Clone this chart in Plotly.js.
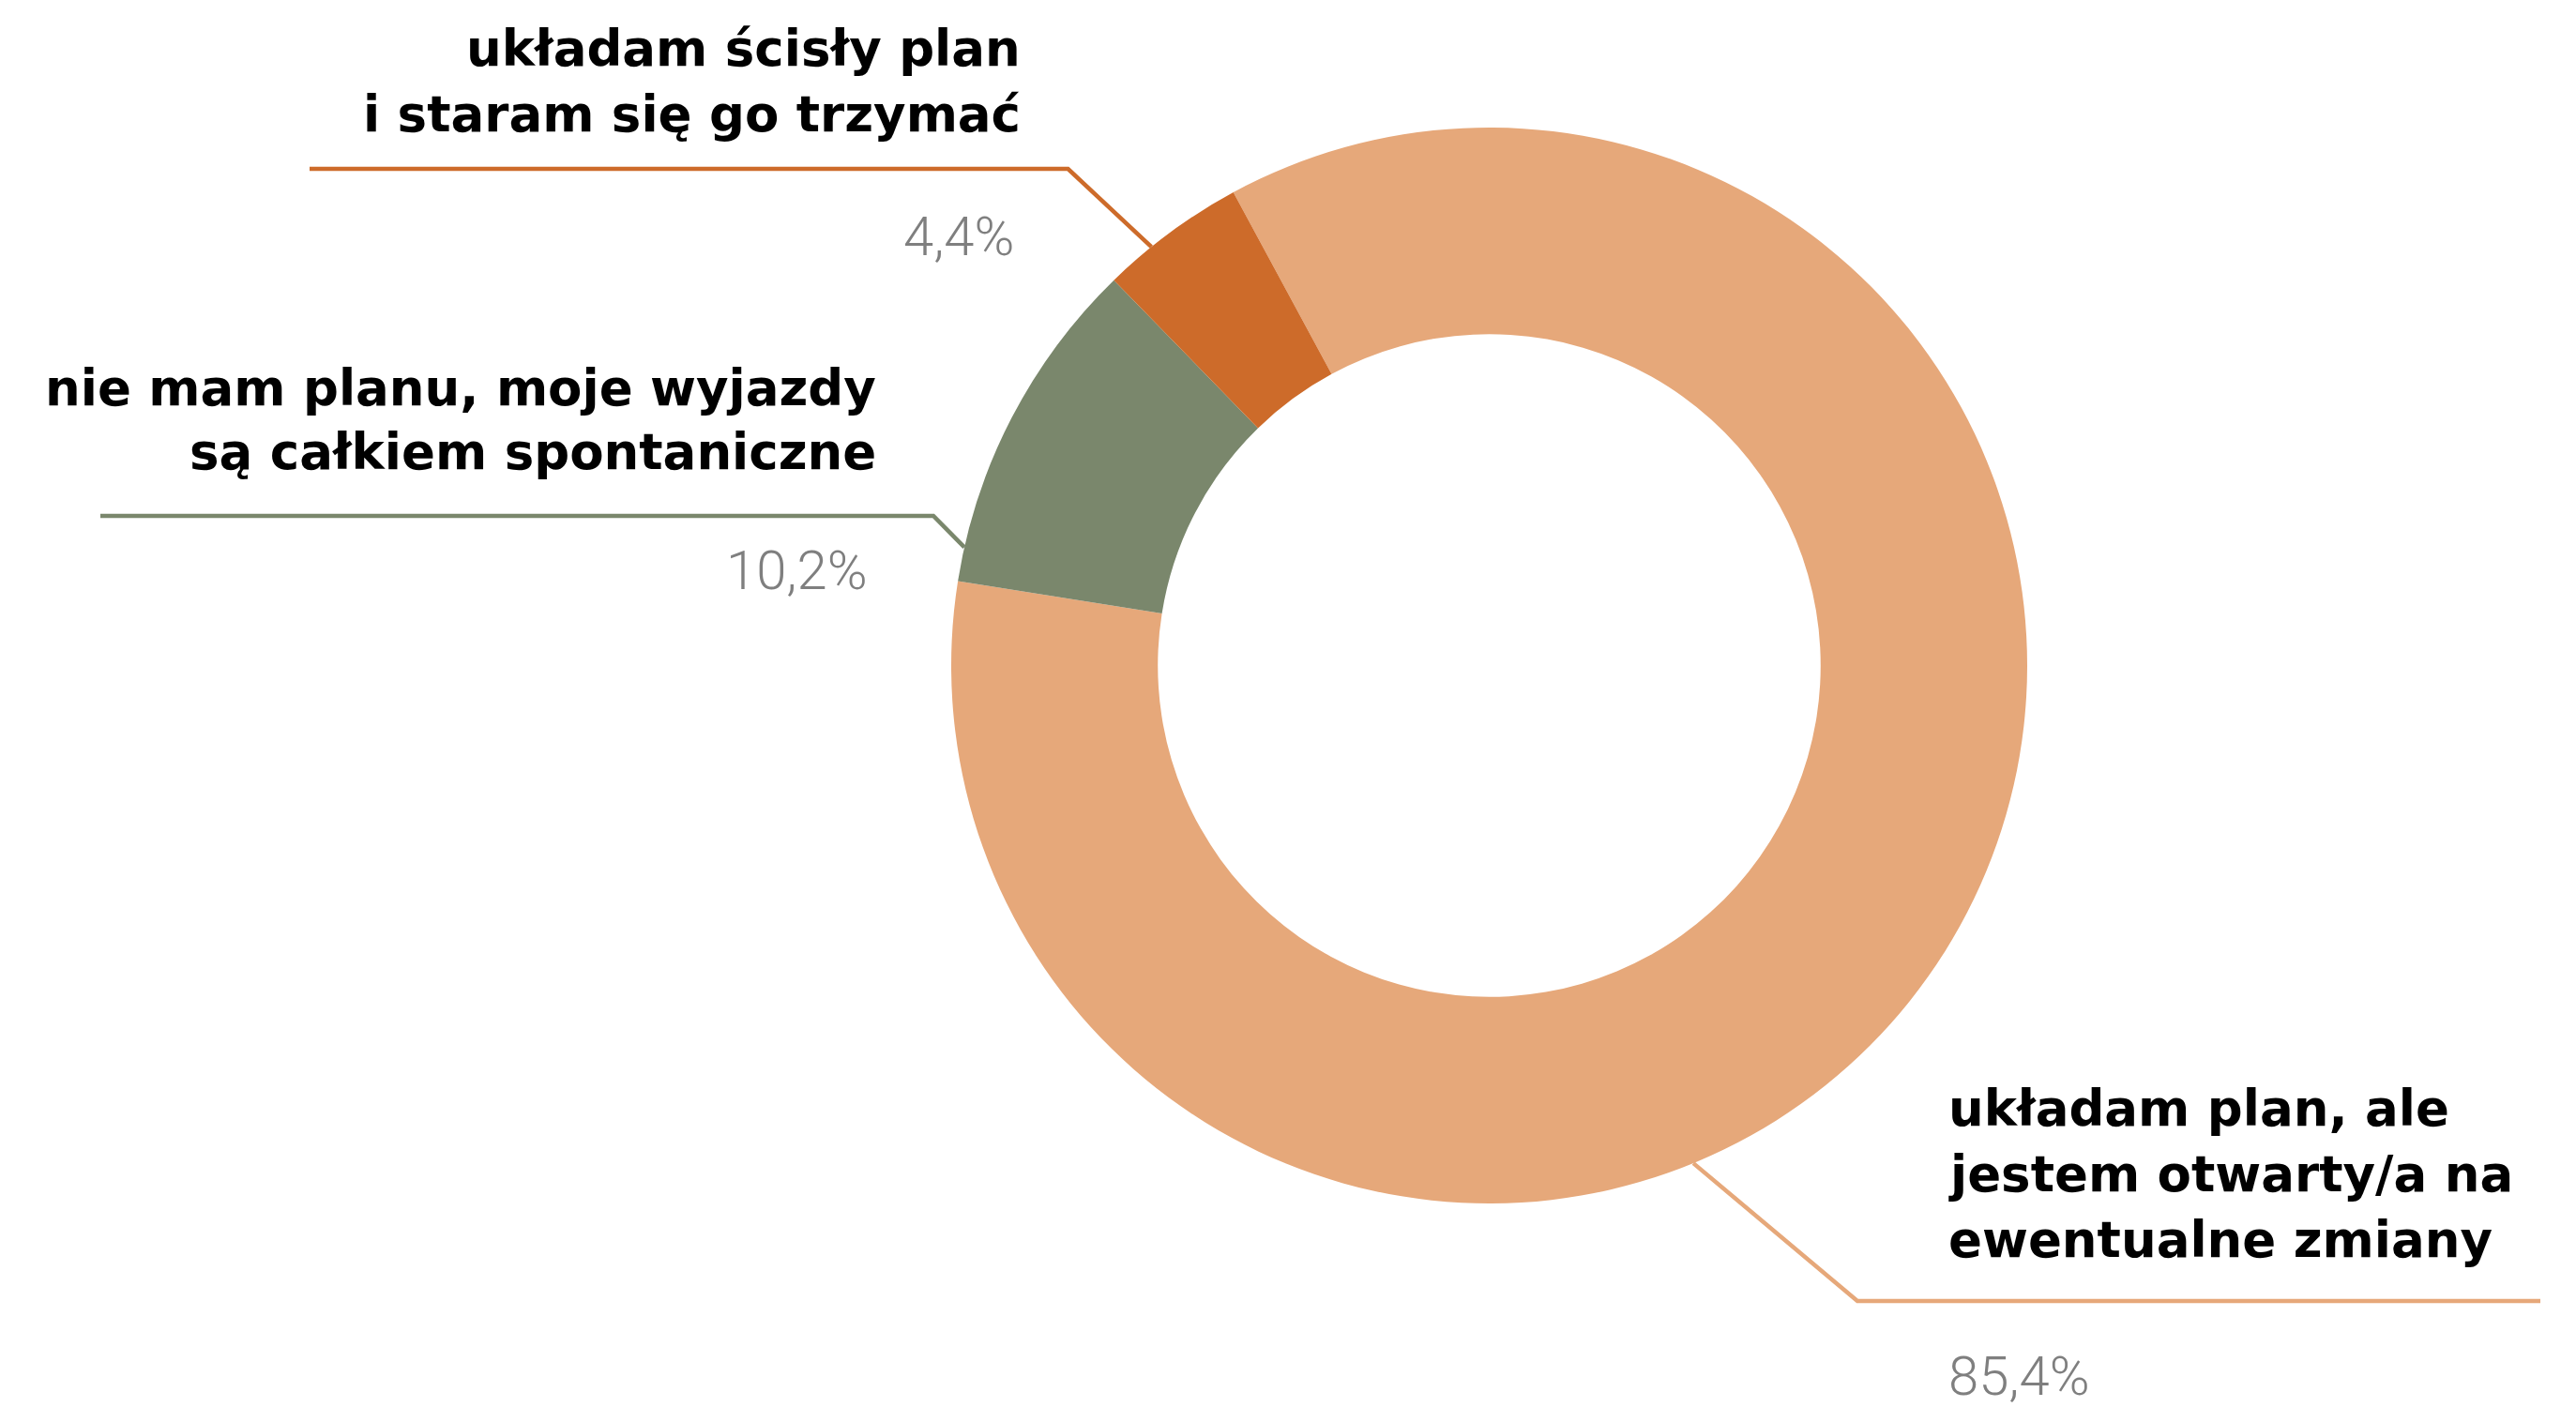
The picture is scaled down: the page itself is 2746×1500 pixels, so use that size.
<!DOCTYPE html>
<html><head><meta charset="utf-8">
<script src="https://cdn.plot.ly/plotly-3.0.1.min.js"></script>
<style>html,body{margin:0;padding:0;background:#fff}</style>
</head><body><div id="chart" style="width:2746px;height:1500px"></div>
<script>
// ---- data ----
const categories = [
  "układam plan, ale<br>jestem otwarty/a na<br>ewentualne zmiany",
  "nie mam planu, moje wyjazdy<br>są całkiem spontaniczne",
  "układam ścisły plan<br>i staram się go trzymać"
];
const values = [85.4, 10.2, 4.4];
const valueLabels = ["85,4%", "10,2%", "4,4%"];
const colors = ["#E6A87A", "#7A876C", "#CD6B2A"];

// ---- layout geometry (pixels) ----
const W = 2746, H = 1500;
const cx = 1587.5, cy = 709.5, R = 573.5, hole = 0.616;
const rotation = -28.4;
const labelFont = "'DejaVu Sans', sans-serif";
const pctFont = "Roboto, 'Noto Sans', sans-serif";
const labelSize = 53, pctSize = 58;
const labelOff = 0.346, pctOff = 0.342;
const labelLayout = [
  {align: 'left',  x: 2077, baselines: [1200, 1270, 1340], pctX: 2077, pctBaseline: 1487, leaderAngle: 157.7, elbow: [1980, 1387], end: 2708},
  {align: 'right', x: 934,  baselines: [431.7, 500],        pctX: 925,  pctBaseline: 628,  leaderAngle: 282.7, elbow: [995, 550],   end: 107},
  {align: 'right', x: 1088, baselines: [70, 140],           pctX: 1081, pctBaseline: 272,  leaderAngle: 321.1, elbow: [1138.5, 180], end: 330}
];

const px = x => x / W;
const py = y => 1 - y / H;
const domain = {x: [px(cx - R), px(cx + R)], y: [py(cy + R), py(cy - R)]};

const annotations = [];
const shapes = [];
categories.forEach((cat, i) => {
  const L = labelLayout[i];
  cat.split('<br>').forEach((line, j) => {
    annotations.push({
      xref: 'paper', yref: 'paper', showarrow: false,
      x: px(L.x), y: py(L.baselines[j] - labelOff * labelSize),
      xanchor: L.align, yanchor: 'middle', align: L.align,
      text: line, borderpad: 0, borderwidth: 0,
      font: {family: labelFont, size: labelSize, color: '#000000', weight: 700}
    });
  });
  annotations.push({
    xref: 'paper', yref: 'paper', showarrow: false,
    x: px(L.pctX), y: py(L.pctBaseline - pctOff * pctSize),
    xanchor: L.align, yanchor: 'middle', align: L.align,
    text: valueLabels[i], borderpad: 0, borderwidth: 0,
    font: {family: pctFont, size: pctSize, color: '#7F7F7F', weight: 300}
  });
  const a = L.leaderAngle * Math.PI / 180;
  const sx = cx + R * Math.sin(a), sy = cy - R * Math.cos(a);
  shapes.push({
    type: 'path', xref: 'paper', yref: 'paper',
    path: `M ${px(sx)} ${py(sy)} L ${px(L.elbow[0])} ${py(L.elbow[1])} L ${px(L.end)} ${py(L.elbow[1])}`,
    line: {color: colors[i], width: 4.5}
  });
});

const trace = {
  type: 'pie',
  labels: categories,
  values: values,
  marker: {colors: colors, line: {width: 0}},
  hole: hole,
  sort: false,
  direction: 'clockwise',
  rotation: rotation,
  textinfo: 'none',
  hoverinfo: 'none',
  domain: domain,
  showlegend: false
};

Plotly.newPlot('chart', [trace], {
  width: W, height: H,
  margin: {l: 0, r: 0, t: 0, b: 0},
  paper_bgcolor: '#ffffff',
  showlegend: false,
  annotations: annotations,
  shapes: shapes
}, {staticPlot: true});
</script></body></html>
